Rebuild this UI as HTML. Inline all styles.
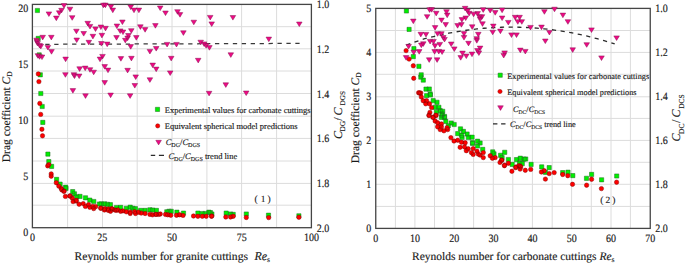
<!DOCTYPE html>
<html><head><meta charset="utf-8"><style>
html,body{margin:0;padding:0;background:#fff;width:685px;height:264px;overflow:hidden;font-family:"Liberation Serif",serif;}
text{stroke:#1a1a1a;stroke-width:0.15px}
svg{display:block}
</style></head><body>
<svg width="685" height="264" viewBox="0 0 685 264" font-family="Liberation Serif" fill="#1a1a1a" text-rendering="geometricPrecision"><rect width="685" height="264" fill="#fff"/><path d="M67.6 4.4V227.7M102.5 4.4V227.7M137.2 4.4V227.7M172.0 4.4V227.7M206.9 4.4V227.7M241.6 4.4V227.7M276.6 4.4V227.7M32.4 26.7H311.4M32.4 48.8H311.4M32.4 71.0H311.4M32.4 93.5H311.4M32.4 116.2H311.4M32.4 138.4H311.4M32.4 161.0H311.4M32.4 183.4H311.4M32.4 205.2H311.4" stroke="#dcdcdc" stroke-width="1" fill="none"/><rect x="32.4" y="4.4" width="279.0" height="223.29999999999998" fill="none" stroke="#454545" stroke-width="1.3"/><path d="M45.3 44.3L299.6 43.4" stroke="#383838" stroke-width="1.25" stroke-dasharray="4.3 4.63" fill="none"/><path d="M35.30 8.40h4.2v4.2h-4.2ZM36.10 36.30h4.2v4.2h-4.2ZM37.10 52.80h4.2v4.2h-4.2ZM38.20 72.70h4.2v4.2h-4.2ZM38.70 91.40h4.2v4.2h-4.2ZM40.10 104.40h4.2v4.2h-4.2ZM40.70 120.30h4.2v4.2h-4.2ZM45.80 152.00h4.2v4.2h-4.2ZM46.70 159.50h4.2v4.2h-4.2ZM49.50 164.30h4.2v4.2h-4.2ZM54.50 177.30h4.2v4.2h-4.2ZM58.00 182.00h4.2v4.2h-4.2ZM63.50 185.10h4.2v4.2h-4.2ZM63.90 186.30h4.2v4.2h-4.2ZM70.60 189.50h4.2v4.2h-4.2ZM72.40 191.70h4.2v4.2h-4.2ZM74.60 194.70h4.2v4.2h-4.2ZM77.90 194.30h4.2v4.2h-4.2ZM83.40 195.70h4.2v4.2h-4.2ZM87.70 198.00h4.2v4.2h-4.2ZM91.70 199.40h4.2v4.2h-4.2ZM97.30 201.90h4.2v4.2h-4.2ZM99.20 201.80h4.2v4.2h-4.2ZM102.40 201.70h4.2v4.2h-4.2ZM105.30 202.20h4.2v4.2h-4.2ZM108.30 202.60h4.2v4.2h-4.2ZM114.40 205.40h4.2v4.2h-4.2ZM118.50 205.30h4.2v4.2h-4.2ZM124.20 206.20h4.2v4.2h-4.2ZM128.10 205.10h4.2v4.2h-4.2ZM130.70 206.20h4.2v4.2h-4.2ZM133.40 206.60h4.2v4.2h-4.2ZM138.60 208.30h4.2v4.2h-4.2ZM143.00 208.30h4.2v4.2h-4.2ZM147.80 207.70h4.2v4.2h-4.2ZM150.40 207.90h4.2v4.2h-4.2ZM154.30 208.30h4.2v4.2h-4.2ZM164.70 209.70h4.2v4.2h-4.2ZM166.90 209.20h4.2v4.2h-4.2ZM169.10 209.20h4.2v4.2h-4.2ZM174.80 210.10h4.2v4.2h-4.2ZM181.40 211.00h4.2v4.2h-4.2ZM195.80 211.00h4.2v4.2h-4.2ZM200.20 211.40h4.2v4.2h-4.2ZM203.20 211.40h4.2v4.2h-4.2ZM206.80 210.10h4.2v4.2h-4.2ZM209.80 211.90h4.2v4.2h-4.2ZM208.30 210.50h4.2v4.2h-4.2ZM224.10 211.00h4.2v4.2h-4.2ZM228.50 211.90h4.2v4.2h-4.2ZM231.10 212.30h4.2v4.2h-4.2ZM244.20 211.90h4.2v4.2h-4.2ZM266.40 213.10h4.2v4.2h-4.2ZM296.80 213.70h4.2v4.2h-4.2Z" fill="#00f000" stroke="#1e6a1e" stroke-width="0.5"/><path d="M36.10 73.90a2.2 2.2 0 1 0 4.4 0a2.2 2.2 0 1 0 -4.4 0ZM36.70 81.60a2.2 2.2 0 1 0 4.4 0a2.2 2.2 0 1 0 -4.4 0ZM37.60 103.40a2.2 2.2 0 1 0 4.4 0a2.2 2.2 0 1 0 -4.4 0ZM38.50 114.40a2.2 2.2 0 1 0 4.4 0a2.2 2.2 0 1 0 -4.4 0ZM39.70 129.30a2.2 2.2 0 1 0 4.4 0a2.2 2.2 0 1 0 -4.4 0ZM40.30 135.80a2.2 2.2 0 1 0 4.4 0a2.2 2.2 0 1 0 -4.4 0ZM45.50 165.90a2.2 2.2 0 1 0 4.4 0a2.2 2.2 0 1 0 -4.4 0ZM46.60 164.60a2.2 2.2 0 1 0 4.4 0a2.2 2.2 0 1 0 -4.4 0ZM49.00 173.90a2.2 2.2 0 1 0 4.4 0a2.2 2.2 0 1 0 -4.4 0ZM49.00 176.20a2.2 2.2 0 1 0 4.4 0a2.2 2.2 0 1 0 -4.4 0ZM54.10 182.70a2.2 2.2 0 1 0 4.4 0a2.2 2.2 0 1 0 -4.4 0ZM56.60 186.10a2.2 2.2 0 1 0 4.4 0a2.2 2.2 0 1 0 -4.4 0ZM59.00 188.50a2.2 2.2 0 1 0 4.4 0a2.2 2.2 0 1 0 -4.4 0ZM59.60 189.90a2.2 2.2 0 1 0 4.4 0a2.2 2.2 0 1 0 -4.4 0ZM61.70 191.30a2.2 2.2 0 1 0 4.4 0a2.2 2.2 0 1 0 -4.4 0ZM61.90 191.10a2.2 2.2 0 1 0 4.4 0a2.2 2.2 0 1 0 -4.4 0ZM63.20 196.40a2.2 2.2 0 1 0 4.4 0a2.2 2.2 0 1 0 -4.4 0ZM67.60 196.00a2.2 2.2 0 1 0 4.4 0a2.2 2.2 0 1 0 -4.4 0ZM67.90 195.90a2.2 2.2 0 1 0 4.4 0a2.2 2.2 0 1 0 -4.4 0ZM70.00 198.00a2.2 2.2 0 1 0 4.4 0a2.2 2.2 0 1 0 -4.4 0ZM70.90 201.60a2.2 2.2 0 1 0 4.4 0a2.2 2.2 0 1 0 -4.4 0ZM74.00 201.10a2.2 2.2 0 1 0 4.4 0a2.2 2.2 0 1 0 -4.4 0ZM74.10 200.30a2.2 2.2 0 1 0 4.4 0a2.2 2.2 0 1 0 -4.4 0ZM76.90 204.20a2.2 2.2 0 1 0 4.4 0a2.2 2.2 0 1 0 -4.4 0ZM81.00 203.60a2.2 2.2 0 1 0 4.4 0a2.2 2.2 0 1 0 -4.4 0ZM83.20 206.40a2.2 2.2 0 1 0 4.4 0a2.2 2.2 0 1 0 -4.4 0ZM86.30 204.60a2.2 2.2 0 1 0 4.4 0a2.2 2.2 0 1 0 -4.4 0ZM87.60 207.30a2.2 2.2 0 1 0 4.4 0a2.2 2.2 0 1 0 -4.4 0ZM90.60 206.40a2.2 2.2 0 1 0 4.4 0a2.2 2.2 0 1 0 -4.4 0ZM93.50 206.60a2.2 2.2 0 1 0 4.4 0a2.2 2.2 0 1 0 -4.4 0ZM91.50 208.60a2.2 2.2 0 1 0 4.4 0a2.2 2.2 0 1 0 -4.4 0ZM98.50 208.10a2.2 2.2 0 1 0 4.4 0a2.2 2.2 0 1 0 -4.4 0ZM98.70 208.30a2.2 2.2 0 1 0 4.4 0a2.2 2.2 0 1 0 -4.4 0ZM102.20 210.00a2.2 2.2 0 1 0 4.4 0a2.2 2.2 0 1 0 -4.4 0ZM102.50 208.60a2.2 2.2 0 1 0 4.4 0a2.2 2.2 0 1 0 -4.4 0ZM106.00 209.00a2.2 2.2 0 1 0 4.4 0a2.2 2.2 0 1 0 -4.4 0ZM106.10 210.40a2.2 2.2 0 1 0 4.4 0a2.2 2.2 0 1 0 -4.4 0ZM108.30 211.30a2.2 2.2 0 1 0 4.4 0a2.2 2.2 0 1 0 -4.4 0ZM109.50 208.60a2.2 2.2 0 1 0 4.4 0a2.2 2.2 0 1 0 -4.4 0ZM110.10 209.10a2.2 2.2 0 1 0 4.4 0a2.2 2.2 0 1 0 -4.4 0ZM112.50 209.90a2.2 2.2 0 1 0 4.4 0a2.2 2.2 0 1 0 -4.4 0ZM114.00 210.40a2.2 2.2 0 1 0 4.4 0a2.2 2.2 0 1 0 -4.4 0ZM115.60 209.90a2.2 2.2 0 1 0 4.4 0a2.2 2.2 0 1 0 -4.4 0ZM118.40 211.30a2.2 2.2 0 1 0 4.4 0a2.2 2.2 0 1 0 -4.4 0ZM120.60 210.90a2.2 2.2 0 1 0 4.4 0a2.2 2.2 0 1 0 -4.4 0ZM124.10 211.80a2.2 2.2 0 1 0 4.4 0a2.2 2.2 0 1 0 -4.4 0ZM128.00 212.20a2.2 2.2 0 1 0 4.4 0a2.2 2.2 0 1 0 -4.4 0ZM128.00 213.50a2.2 2.2 0 1 0 4.4 0a2.2 2.2 0 1 0 -4.4 0ZM132.40 211.80a2.2 2.2 0 1 0 4.4 0a2.2 2.2 0 1 0 -4.4 0ZM133.30 213.50a2.2 2.2 0 1 0 4.4 0a2.2 2.2 0 1 0 -4.4 0ZM136.30 212.20a2.2 2.2 0 1 0 4.4 0a2.2 2.2 0 1 0 -4.4 0ZM139.00 213.10a2.2 2.2 0 1 0 4.4 0a2.2 2.2 0 1 0 -4.4 0ZM142.90 213.50a2.2 2.2 0 1 0 4.4 0a2.2 2.2 0 1 0 -4.4 0ZM147.70 214.40a2.2 2.2 0 1 0 4.4 0a2.2 2.2 0 1 0 -4.4 0ZM150.30 214.80a2.2 2.2 0 1 0 4.4 0a2.2 2.2 0 1 0 -4.4 0ZM153.80 214.40a2.2 2.2 0 1 0 4.4 0a2.2 2.2 0 1 0 -4.4 0ZM156.50 214.40a2.2 2.2 0 1 0 4.4 0a2.2 2.2 0 1 0 -4.4 0ZM153.70 214.40a2.2 2.2 0 1 0 4.4 0a2.2 2.2 0 1 0 -4.4 0ZM158.10 214.00a2.2 2.2 0 1 0 4.4 0a2.2 2.2 0 1 0 -4.4 0ZM163.30 214.40a2.2 2.2 0 1 0 4.4 0a2.2 2.2 0 1 0 -4.4 0ZM165.50 214.80a2.2 2.2 0 1 0 4.4 0a2.2 2.2 0 1 0 -4.4 0ZM168.60 215.30a2.2 2.2 0 1 0 4.4 0a2.2 2.2 0 1 0 -4.4 0ZM174.30 215.30a2.2 2.2 0 1 0 4.4 0a2.2 2.2 0 1 0 -4.4 0ZM177.30 214.80a2.2 2.2 0 1 0 4.4 0a2.2 2.2 0 1 0 -4.4 0ZM180.80 215.40a2.2 2.2 0 1 0 4.4 0a2.2 2.2 0 1 0 -4.4 0ZM191.30 216.00a2.2 2.2 0 1 0 4.4 0a2.2 2.2 0 1 0 -4.4 0ZM195.70 216.30a2.2 2.2 0 1 0 4.4 0a2.2 2.2 0 1 0 -4.4 0ZM200.10 216.30a2.2 2.2 0 1 0 4.4 0a2.2 2.2 0 1 0 -4.4 0ZM204.00 216.30a2.2 2.2 0 1 0 4.4 0a2.2 2.2 0 1 0 -4.4 0ZM209.30 216.30a2.2 2.2 0 1 0 4.4 0a2.2 2.2 0 1 0 -4.4 0ZM209.60 216.00a2.2 2.2 0 1 0 4.4 0a2.2 2.2 0 1 0 -4.4 0ZM223.60 217.00a2.2 2.2 0 1 0 4.4 0a2.2 2.2 0 1 0 -4.4 0ZM228.40 217.00a2.2 2.2 0 1 0 4.4 0a2.2 2.2 0 1 0 -4.4 0ZM231.00 216.30a2.2 2.2 0 1 0 4.4 0a2.2 2.2 0 1 0 -4.4 0ZM244.10 217.50a2.2 2.2 0 1 0 4.4 0a2.2 2.2 0 1 0 -4.4 0ZM266.50 217.60a2.2 2.2 0 1 0 4.4 0a2.2 2.2 0 1 0 -4.4 0ZM296.70 217.30a2.2 2.2 0 1 0 4.4 0a2.2 2.2 0 1 0 -4.4 0Z" fill="#ff0000" stroke="#8a0000" stroke-width="0.5"/><path d="M61.20 3.60H66.80L64.00 8.20ZM58.70 8.30H64.30L61.50 12.90ZM56.40 10.80H62.00L59.20 15.40ZM46.10 11.90H51.70L48.90 16.50ZM53.50 16.10H59.10L56.30 20.70ZM67.20 7.20H72.80L70.00 11.80ZM69.40 15.70H75.00L72.20 20.30ZM100.60 3.20H106.20L103.40 7.80ZM102.60 3.10H108.20L105.40 7.70ZM108.10 4.70H113.70L110.90 9.30ZM110.00 8.10H115.60L112.80 12.70ZM84.90 21.30H90.50L87.70 25.90ZM87.20 24.40H92.80L90.00 29.00ZM92.70 26.90H98.30L95.50 31.50ZM98.10 25.00H103.70L100.90 29.60ZM102.70 26.30H108.30L105.50 30.90ZM73.60 29.20H79.20L76.40 33.80ZM80.90 31.50H86.50L83.70 36.10ZM114.10 24.00H119.70L116.90 28.60ZM127.90 5.00H133.50L130.70 9.60ZM131.20 8.10H136.80L134.00 12.70ZM136.10 8.10H141.70L138.90 12.70ZM157.40 6.00H163.00L160.20 10.60ZM162.70 11.00H168.30L165.50 15.60ZM174.70 9.70H180.30L177.50 14.30ZM177.20 12.60H182.80L180.00 17.20ZM191.00 20.20H196.60L193.80 24.80ZM119.60 20.00H125.20L122.40 24.60ZM117.40 28.90H123.00L120.20 33.50ZM120.20 30.00H125.80L123.00 34.60ZM128.50 28.70H134.10L131.30 33.30ZM137.60 24.80H143.20L140.40 29.40ZM142.30 27.60H147.90L145.10 32.20ZM152.60 23.60H158.20L155.40 28.20ZM180.60 30.80H186.20L183.40 35.40ZM207.40 15.40H213.00L210.20 20.00ZM208.90 21.90H214.50L211.70 26.50ZM230.10 15.50H235.70L232.90 20.10ZM296.50 22.00H302.10L299.30 26.60ZM90.10 34.30H95.70L92.90 38.90ZM99.10 33.30H104.70L101.90 37.90ZM73.90 38.00H79.50L76.70 42.60ZM86.00 40.30H91.60L88.80 44.90ZM98.60 41.50H104.20L101.40 46.10ZM104.40 42.10H110.00L107.20 46.70ZM113.70 35.60H119.30L116.50 40.20ZM39.90 35.30H45.50L42.70 39.90ZM48.50 35.30H54.10L51.30 39.90ZM33.80 38.20H39.40L36.60 42.80ZM34.20 39.80H39.80L37.00 44.40ZM34.80 41.40H40.40L37.60 46.00ZM36.80 43.40H42.40L39.60 48.00ZM38.00 44.30H43.60L40.80 48.90ZM45.10 45.40H50.70L47.90 50.00ZM48.70 49.60H54.30L51.50 54.20ZM62.80 57.10H68.40L65.60 61.70ZM35.10 53.70H40.70L37.90 58.30ZM36.80 54.70H42.40L39.60 59.30ZM39.20 55.00H44.80L42.00 59.60ZM99.70 54.40H105.30L102.50 59.00ZM97.20 57.10H102.80L100.00 61.70ZM125.60 33.50H131.20L128.40 38.10ZM124.80 36.10H130.40L127.60 40.70ZM122.50 38.30H128.10L125.30 42.90ZM133.50 35.60H139.10L136.30 40.20ZM127.90 44.60H133.50L130.70 49.20ZM164.30 42.40H169.90L167.10 47.00ZM173.70 42.40H179.30L176.50 47.00ZM153.40 46.50H159.00L156.20 51.10ZM147.10 49.40H152.70L149.90 54.00ZM118.10 56.60H123.70L120.90 61.20ZM128.60 56.30H134.20L131.40 60.90ZM168.40 56.30H174.00L171.20 60.90ZM197.90 40.20H203.50L200.70 44.80ZM201.30 41.90H206.90L204.10 46.50ZM203.30 43.60H208.90L206.10 48.20ZM206.60 45.60H212.20L209.40 50.20ZM266.00 37.10H271.60L268.80 41.70ZM228.00 52.80H233.60L230.80 57.40ZM195.40 58.30H201.00L198.20 62.90ZM76.80 66.80H82.40L79.60 71.40ZM82.40 66.10H88.00L85.20 70.70ZM87.20 67.70H92.80L90.00 72.30ZM90.90 70.20H96.50L93.70 74.80ZM101.90 64.60H107.50L104.70 69.20ZM105.20 68.10H110.80L108.00 72.70ZM62.60 72.70H68.20L65.40 77.30ZM71.10 72.70H76.70L73.90 77.30ZM71.70 74.00H77.30L74.50 78.60ZM76.40 74.00H82.00L79.20 78.60ZM101.90 80.60H107.50L104.70 85.20ZM70.10 88.60H75.70L72.90 93.20ZM149.90 63.10H155.50L152.70 67.70ZM153.40 67.10H159.00L156.20 71.70ZM124.80 68.30H130.40L127.60 72.90ZM132.90 74.90H138.50L135.70 79.50ZM147.10 77.80H152.70L149.90 82.40ZM167.40 70.90H173.00L170.20 75.50ZM132.00 83.50H137.60L134.80 88.10ZM223.00 82.80H228.60L225.80 87.40ZM82.70 93.80H88.30L85.50 98.40ZM107.80 93.10H113.40L110.60 97.70ZM127.30 93.80H132.90L130.10 98.40ZM206.30 91.30H211.90L209.10 95.90ZM243.40 91.00H249.00L246.20 95.60Z" fill="#ee0a84" stroke="#8a1456" stroke-width="0.5"/><text transform="translate(28.3 235.6) scale(1 1.12)" font-size="10" text-anchor="end" >0</text><text transform="translate(28.3 179.78) scale(1 1.12)" font-size="10" text-anchor="end" >5</text><text transform="translate(28.3 123.95) scale(1 1.12)" font-size="10" text-anchor="end" >10</text><text transform="translate(28.3 68.13) scale(1 1.12)" font-size="10" text-anchor="end" >15</text><text transform="translate(28.3 12.3) scale(1 1.12)" font-size="10" text-anchor="end" >20</text><text transform="translate(316.8 8.3) scale(1 1.12)" font-size="10" text-anchor="start" >1.0</text><text transform="translate(316.8 52.96) scale(1 1.12)" font-size="10" text-anchor="start" >1.2</text><text transform="translate(316.8 97.62) scale(1 1.12)" font-size="10" text-anchor="start" >1.4</text><text transform="translate(316.8 142.28) scale(1 1.12)" font-size="10" text-anchor="start" >1.6</text><text transform="translate(316.8 186.94) scale(1 1.12)" font-size="10" text-anchor="start" >1.8</text><text transform="translate(316.8 231.6) scale(1 1.12)" font-size="10" text-anchor="start" >2.0</text><text transform="translate(32.4 241.4) scale(1 1.12)" font-size="10" text-anchor="middle" >0</text><text transform="translate(102.15 241.4) scale(1 1.12)" font-size="10" text-anchor="middle" >25</text><text transform="translate(171.9 241.4) scale(1 1.12)" font-size="10" text-anchor="middle" >50</text><text transform="translate(241.65 241.4) scale(1 1.12)" font-size="10" text-anchor="middle" >75</text><text transform="translate(311.4 241.4) scale(1 1.12)" font-size="10" text-anchor="middle" >100</text><text x="74.5" y="259.6" font-size="11.62">Reynolds number for granite cuttings<tspan x="254.4" font-style="italic" font-size="12">Re</tspan><tspan font-size="7.6" dy="2.8">s</tspan></text><text transform="translate(9.7 162.2) rotate(-90)" font-size="11.5">Drag coefficient <tspan font-style="italic">C</tspan><tspan font-size="7.5" dy="2">D</tspan></text><text transform="translate(341.6 138.9) rotate(-90)" font-size="12"><tspan x="0" font-style="italic">C</tspan><tspan x="7.3" font-size="7.4" dy="3.1">DG</tspan><tspan x="18.2" dy="-3.1">/</tspan><tspan x="23.3" font-style="italic">C</tspan><tspan x="33.5" font-size="7.2" dy="3.1">DGS</tspan></text><path d="M155.40 107.30h4.2v4.2h-4.2Z" fill="#00f000" stroke="#1e6a1e" stroke-width="0.5"/><text x="164.7" y="112.9" font-size="8.5" text-anchor="start" >Experimental values for carbonate cuttings</text><circle cx="157.7" cy="125.9" r="2.1" fill="#ff0000" stroke="#8a0000" stroke-width="0.5"/><text x="164.7" y="128.6" font-size="8.5" text-anchor="start" >Equivalent spherical model predictions</text><path d="M155.80 140.30H161.40L158.60 144.90Z" fill="#ee0a84" stroke="#8a1456" stroke-width="0.5"/><text x="165.7" y="145.1" font-size="8.5"><tspan font-style="italic">C</tspan><tspan font-size="6" dy="2">DG</tspan><tspan dy="-2">/</tspan><tspan font-style="italic">C</tspan><tspan font-size="6" dy="2">DGS</tspan></text><path d="M150.8 155.4H155.2M158.9 155.4H164" stroke="#2b2b2b" stroke-width="1.2"/><text x="168.4" y="159" font-size="8.5"><tspan font-style="italic">C</tspan><tspan font-size="6" dy="2">DG</tspan><tspan dy="-2">/</tspan><tspan font-style="italic">C</tspan><tspan font-size="6" dy="2">DGS</tspan><tspan dy="-2"> trend line</tspan></text><text x="254.6" y="201.6" font-size="9.5">(<tspan dx="3.1">1</tspan><tspan dx="2.0">)</tspan></text><path d="M395.4 8.4V228.4M414.9 8.4V228.4M434.5 8.4V228.4M454.0 8.4V228.4M473.6 8.4V228.4M493.3 8.4V228.4M512.8 8.4V228.4M532.4 8.4V228.4M552.2 8.4V228.4M571.6 8.4V228.4M591.3 8.4V228.4M611.0 8.4V228.4M630.4 8.4V228.4M375.75 30.5H650.25M375.75 52.4H650.25M375.75 74.3H650.25M375.75 96.8H650.25M375.75 118.4H650.25M375.75 140.4H650.25M375.75 162.3H650.25M375.75 184.3H650.25M375.75 206.4H650.25" stroke="#dcdcdc" stroke-width="1" fill="none"/><rect x="375.75" y="8.4" width="274.5" height="220.0" fill="none" stroke="#454545" stroke-width="1.3"/><path d="M406.30 45.18 L409.83 43.87 L413.36 42.59 L416.90 41.35 L420.43 40.15 L423.96 38.99 L427.49 38.04 L431.03 37.14 L434.56 36.28 L438.09 35.45 L441.62 34.66 L445.15 33.92 L448.69 33.21 L452.22 32.54 L455.75 31.91 L459.28 31.32 L462.82 30.77 L466.35 30.25 L469.88 29.78 L473.41 29.34 L476.94 28.95 L480.48 28.59 L484.01 28.27 L487.54 27.99 L491.07 27.75 L494.61 27.55 L498.14 27.38 L501.67 27.26 L505.20 27.18 L508.73 27.13 L512.27 27.12 L515.80 27.16 L519.33 27.23 L522.86 27.34 L526.39 27.49 L529.93 27.68 L533.46 27.90 L536.99 28.17 L540.52 28.48 L544.06 28.82 L547.59 29.20 L551.12 29.63 L554.65 30.09 L558.18 30.59 L561.72 31.13 L565.25 31.70 L568.78 32.32 L572.31 32.98 L575.85 33.67 L579.38 34.41 L582.91 35.18 L586.44 35.99 L589.97 36.84 L593.51 37.73 L597.04 38.66 L600.57 39.63 L604.10 40.64 L607.64 41.69 L611.17 42.77 L614.70 43.89" stroke="#2b2b2b" stroke-width="1.3" stroke-dasharray="4.2 4.5" fill="none"/><path d="M404.30 8.90h4.2v4.2h-4.2ZM407.00 27.30h4.2v4.2h-4.2ZM411.80 46.60h4.2v4.2h-4.2ZM411.20 54.50h4.2v4.2h-4.2ZM416.80 64.20h4.2v4.2h-4.2ZM419.10 72.70h4.2v4.2h-4.2ZM418.70 75.00h4.2v4.2h-4.2ZM421.20 78.00h4.2v4.2h-4.2ZM423.90 87.00h4.2v4.2h-4.2ZM427.20 86.90h4.2v4.2h-4.2ZM428.10 91.80h4.2v4.2h-4.2ZM424.50 93.60h4.2v4.2h-4.2ZM428.30 92.90h4.2v4.2h-4.2ZM431.10 98.60h4.2v4.2h-4.2ZM434.90 100.20h4.2v4.2h-4.2ZM433.00 105.20h4.2v4.2h-4.2ZM436.80 105.20h4.2v4.2h-4.2ZM438.10 108.60h4.2v4.2h-4.2ZM440.60 109.20h4.2v4.2h-4.2ZM434.30 110.20h4.2v4.2h-4.2ZM439.90 113.00h4.2v4.2h-4.2ZM442.40 114.30h4.2v4.2h-4.2ZM439.90 111.80h4.2v4.2h-4.2ZM439.30 115.20h4.2v4.2h-4.2ZM442.40 115.50h4.2v4.2h-4.2ZM443.70 119.30h4.2v4.2h-4.2ZM449.10 120.90h4.2v4.2h-4.2ZM452.10 122.40h4.2v4.2h-4.2ZM446.20 123.70h4.2v4.2h-4.2ZM458.40 126.80h4.2v4.2h-4.2ZM461.30 129.30h4.2v4.2h-4.2ZM455.60 131.50h4.2v4.2h-4.2ZM459.40 133.10h4.2v4.2h-4.2ZM465.00 131.90h4.2v4.2h-4.2ZM460.00 135.40h4.2v4.2h-4.2ZM466.20 135.40h4.2v4.2h-4.2ZM470.00 135.10h4.2v4.2h-4.2ZM470.40 140.60h4.2v4.2h-4.2ZM475.50 139.10h4.2v4.2h-4.2ZM478.00 140.90h4.2v4.2h-4.2ZM470.50 141.40h4.2v4.2h-4.2ZM475.50 143.90h4.2v4.2h-4.2ZM480.60 147.30h4.2v4.2h-4.2ZM490.60 149.80h4.2v4.2h-4.2ZM491.90 151.70h4.2v4.2h-4.2ZM502.60 150.20h4.2v4.2h-4.2ZM498.50 153.20h4.2v4.2h-4.2ZM506.30 157.40h4.2v4.2h-4.2ZM500.00 155.50h4.2v4.2h-4.2ZM514.40 157.50h4.2v4.2h-4.2ZM518.20 156.10h4.2v4.2h-4.2ZM522.00 157.00h4.2v4.2h-4.2ZM510.10 162.30h4.2v4.2h-4.2ZM517.50 160.70h4.2v4.2h-4.2ZM520.20 161.50h4.2v4.2h-4.2ZM523.60 156.90h4.2v4.2h-4.2ZM529.00 162.30h4.2v4.2h-4.2ZM539.60 164.80h4.2v4.2h-4.2ZM547.10 165.50h4.2v4.2h-4.2ZM543.30 170.20h4.2v4.2h-4.2ZM560.60 170.50h4.2v4.2h-4.2ZM565.90 170.10h4.2v4.2h-4.2ZM570.70 173.50h4.2v4.2h-4.2ZM584.40 176.20h4.2v4.2h-4.2ZM589.50 172.30h4.2v4.2h-4.2ZM599.50 177.70h4.2v4.2h-4.2ZM614.60 173.90h4.2v4.2h-4.2Z" fill="#00f000" stroke="#1e6a1e" stroke-width="0.5"/><path d="M403.90 50.60a2.2 2.2 0 1 0 4.4 0a2.2 2.2 0 1 0 -4.4 0ZM406.90 59.10a2.2 2.2 0 1 0 4.4 0a2.2 2.2 0 1 0 -4.4 0ZM411.10 65.80a2.2 2.2 0 1 0 4.4 0a2.2 2.2 0 1 0 -4.4 0ZM411.50 78.30a2.2 2.2 0 1 0 4.4 0a2.2 2.2 0 1 0 -4.4 0ZM417.40 93.00a2.2 2.2 0 1 0 4.4 0a2.2 2.2 0 1 0 -4.4 0ZM418.60 93.00a2.2 2.2 0 1 0 4.4 0a2.2 2.2 0 1 0 -4.4 0ZM416.40 92.80a2.2 2.2 0 1 0 4.4 0a2.2 2.2 0 1 0 -4.4 0ZM419.10 96.90a2.2 2.2 0 1 0 4.4 0a2.2 2.2 0 1 0 -4.4 0ZM421.00 100.70a2.2 2.2 0 1 0 4.4 0a2.2 2.2 0 1 0 -4.4 0ZM424.40 100.70a2.2 2.2 0 1 0 4.4 0a2.2 2.2 0 1 0 -4.4 0ZM423.50 103.80a2.2 2.2 0 1 0 4.4 0a2.2 2.2 0 1 0 -4.4 0ZM427.30 103.80a2.2 2.2 0 1 0 4.4 0a2.2 2.2 0 1 0 -4.4 0ZM429.40 107.60a2.2 2.2 0 1 0 4.4 0a2.2 2.2 0 1 0 -4.4 0ZM427.70 112.40a2.2 2.2 0 1 0 4.4 0a2.2 2.2 0 1 0 -4.4 0ZM426.90 115.10a2.2 2.2 0 1 0 4.4 0a2.2 2.2 0 1 0 -4.4 0ZM433.60 115.10a2.2 2.2 0 1 0 4.4 0a2.2 2.2 0 1 0 -4.4 0ZM431.00 117.40a2.2 2.2 0 1 0 4.4 0a2.2 2.2 0 1 0 -4.4 0ZM426.70 115.50a2.2 2.2 0 1 0 4.4 0a2.2 2.2 0 1 0 -4.4 0ZM430.70 117.30a2.2 2.2 0 1 0 4.4 0a2.2 2.2 0 1 0 -4.4 0ZM433.90 115.50a2.2 2.2 0 1 0 4.4 0a2.2 2.2 0 1 0 -4.4 0ZM432.90 121.00a2.2 2.2 0 1 0 4.4 0a2.2 2.2 0 1 0 -4.4 0ZM435.40 122.70a2.2 2.2 0 1 0 4.4 0a2.2 2.2 0 1 0 -4.4 0ZM439.20 123.90a2.2 2.2 0 1 0 4.4 0a2.2 2.2 0 1 0 -4.4 0ZM435.40 126.80a2.2 2.2 0 1 0 4.4 0a2.2 2.2 0 1 0 -4.4 0ZM439.20 126.80a2.2 2.2 0 1 0 4.4 0a2.2 2.2 0 1 0 -4.4 0ZM438.00 129.60a2.2 2.2 0 1 0 4.4 0a2.2 2.2 0 1 0 -4.4 0ZM441.70 130.80a2.2 2.2 0 1 0 4.4 0a2.2 2.2 0 1 0 -4.4 0ZM444.90 127.70a2.2 2.2 0 1 0 4.4 0a2.2 2.2 0 1 0 -4.4 0ZM445.50 129.60a2.2 2.2 0 1 0 4.4 0a2.2 2.2 0 1 0 -4.4 0ZM448.70 137.60a2.2 2.2 0 1 0 4.4 0a2.2 2.2 0 1 0 -4.4 0ZM451.80 141.00a2.2 2.2 0 1 0 4.4 0a2.2 2.2 0 1 0 -4.4 0ZM455.50 140.20a2.2 2.2 0 1 0 4.4 0a2.2 2.2 0 1 0 -4.4 0ZM459.30 142.20a2.2 2.2 0 1 0 4.4 0a2.2 2.2 0 1 0 -4.4 0ZM463.00 142.80a2.2 2.2 0 1 0 4.4 0a2.2 2.2 0 1 0 -4.4 0ZM457.90 147.30a2.2 2.2 0 1 0 4.4 0a2.2 2.2 0 1 0 -4.4 0ZM462.30 146.90a2.2 2.2 0 1 0 4.4 0a2.2 2.2 0 1 0 -4.4 0ZM466.00 148.80a2.2 2.2 0 1 0 4.4 0a2.2 2.2 0 1 0 -4.4 0ZM464.10 150.70a2.2 2.2 0 1 0 4.4 0a2.2 2.2 0 1 0 -4.4 0ZM471.00 148.60a2.2 2.2 0 1 0 4.4 0a2.2 2.2 0 1 0 -4.4 0ZM469.20 152.60a2.2 2.2 0 1 0 4.4 0a2.2 2.2 0 1 0 -4.4 0ZM471.00 154.40a2.2 2.2 0 1 0 4.4 0a2.2 2.2 0 1 0 -4.4 0ZM474.80 151.30a2.2 2.2 0 1 0 4.4 0a2.2 2.2 0 1 0 -4.4 0ZM476.10 154.10a2.2 2.2 0 1 0 4.4 0a2.2 2.2 0 1 0 -4.4 0ZM477.90 155.10a2.2 2.2 0 1 0 4.4 0a2.2 2.2 0 1 0 -4.4 0ZM481.10 152.60a2.2 2.2 0 1 0 4.4 0a2.2 2.2 0 1 0 -4.4 0ZM481.10 157.60a2.2 2.2 0 1 0 4.4 0a2.2 2.2 0 1 0 -4.4 0ZM488.00 155.70a2.2 2.2 0 1 0 4.4 0a2.2 2.2 0 1 0 -4.4 0ZM490.20 158.20a2.2 2.2 0 1 0 4.4 0a2.2 2.2 0 1 0 -4.4 0ZM493.00 157.60a2.2 2.2 0 1 0 4.4 0a2.2 2.2 0 1 0 -4.4 0ZM499.30 160.10a2.2 2.2 0 1 0 4.4 0a2.2 2.2 0 1 0 -4.4 0ZM497.80 162.40a2.2 2.2 0 1 0 4.4 0a2.2 2.2 0 1 0 -4.4 0ZM502.40 165.10a2.2 2.2 0 1 0 4.4 0a2.2 2.2 0 1 0 -4.4 0ZM506.20 163.20a2.2 2.2 0 1 0 4.4 0a2.2 2.2 0 1 0 -4.4 0ZM513.70 167.00a2.2 2.2 0 1 0 4.4 0a2.2 2.2 0 1 0 -4.4 0ZM518.10 166.10a2.2 2.2 0 1 0 4.4 0a2.2 2.2 0 1 0 -4.4 0ZM499.70 160.30a2.2 2.2 0 1 0 4.4 0a2.2 2.2 0 1 0 -4.4 0ZM502.20 165.70a2.2 2.2 0 1 0 4.4 0a2.2 2.2 0 1 0 -4.4 0ZM509.70 171.30a2.2 2.2 0 1 0 4.4 0a2.2 2.2 0 1 0 -4.4 0ZM513.50 167.60a2.2 2.2 0 1 0 4.4 0a2.2 2.2 0 1 0 -4.4 0ZM516.60 165.70a2.2 2.2 0 1 0 4.4 0a2.2 2.2 0 1 0 -4.4 0ZM518.50 166.90a2.2 2.2 0 1 0 4.4 0a2.2 2.2 0 1 0 -4.4 0ZM517.90 169.10a2.2 2.2 0 1 0 4.4 0a2.2 2.2 0 1 0 -4.4 0ZM523.10 170.30a2.2 2.2 0 1 0 4.4 0a2.2 2.2 0 1 0 -4.4 0ZM528.50 169.40a2.2 2.2 0 1 0 4.4 0a2.2 2.2 0 1 0 -4.4 0ZM539.20 172.00a2.2 2.2 0 1 0 4.4 0a2.2 2.2 0 1 0 -4.4 0ZM542.00 170.70a2.2 2.2 0 1 0 4.4 0a2.2 2.2 0 1 0 -4.4 0ZM547.00 173.60a2.2 2.2 0 1 0 4.4 0a2.2 2.2 0 1 0 -4.4 0ZM552.00 172.60a2.2 2.2 0 1 0 4.4 0a2.2 2.2 0 1 0 -4.4 0ZM543.20 179.10a2.2 2.2 0 1 0 4.4 0a2.2 2.2 0 1 0 -4.4 0ZM560.50 174.50a2.2 2.2 0 1 0 4.4 0a2.2 2.2 0 1 0 -4.4 0ZM565.60 175.70a2.2 2.2 0 1 0 4.4 0a2.2 2.2 0 1 0 -4.4 0ZM570.30 184.30a2.2 2.2 0 1 0 4.4 0a2.2 2.2 0 1 0 -4.4 0ZM584.40 185.20a2.2 2.2 0 1 0 4.4 0a2.2 2.2 0 1 0 -4.4 0ZM589.40 179.30a2.2 2.2 0 1 0 4.4 0a2.2 2.2 0 1 0 -4.4 0ZM599.20 188.60a2.2 2.2 0 1 0 4.4 0a2.2 2.2 0 1 0 -4.4 0ZM614.40 182.20a2.2 2.2 0 1 0 4.4 0a2.2 2.2 0 1 0 -4.4 0Z" fill="#ff0000" stroke="#8a0000" stroke-width="0.5"/><path d="M410.50 19.10H416.10L413.30 23.70ZM424.30 14.70H429.90L427.10 19.30ZM426.80 7.80H432.40L429.60 12.40ZM428.90 7.60H434.50L431.70 12.20ZM433.40 11.30H439.00L436.20 15.90ZM443.70 9.70H449.30L446.50 14.30ZM444.40 13.10H450.00L447.20 17.70ZM438.70 18.10H444.30L441.50 22.70ZM442.90 22.60H448.50L445.70 27.20ZM432.30 25.60H437.90L435.10 30.20ZM418.00 32.30H423.60L420.80 36.90ZM423.20 32.40H428.80L426.00 37.00ZM434.80 31.70H440.40L437.60 36.30ZM438.60 31.70H444.20L441.40 36.30ZM440.50 35.50H446.10L443.30 40.10ZM441.70 37.40H447.30L444.50 42.00ZM462.30 6.30H467.90L465.10 10.90ZM464.80 8.80H470.40L467.60 13.40ZM466.30 11.30H471.90L469.10 15.90ZM470.80 12.20H476.40L473.60 16.80ZM474.80 11.60H480.40L477.60 16.20ZM476.70 14.70H482.30L479.50 19.30ZM479.20 14.70H484.80L482.00 19.30ZM477.30 17.20H482.90L480.10 21.80ZM480.40 7.80H486.00L483.20 12.40ZM487.40 8.40H493.00L490.20 13.00ZM492.40 10.60H498.00L495.20 15.20ZM499.30 8.10H504.90L502.10 12.70ZM499.30 16.00H504.90L502.10 20.60ZM512.40 15.30H518.00L515.20 19.90ZM516.80 15.30H522.40L519.60 19.90ZM515.00 19.70H520.60L517.80 24.30ZM519.00 19.70H524.60L521.80 24.30ZM505.50 20.40H511.10L508.30 25.00ZM459.10 17.60H464.70L461.90 22.20ZM462.90 16.00H468.50L465.70 20.60ZM454.80 23.60H460.40L457.60 28.20ZM458.60 22.60H464.20L461.40 27.20ZM479.70 21.80H485.30L482.50 26.40ZM469.40 24.80H475.00L472.20 29.40ZM490.50 24.10H496.10L493.30 28.70ZM489.90 30.20H495.50L492.70 34.80ZM497.60 29.10H503.20L500.40 33.70ZM461.20 31.60H466.80L464.00 36.20ZM461.20 35.50H466.80L464.00 40.10ZM475.50 32.30H481.10L478.30 36.90ZM508.70 32.90H514.30L511.50 37.50ZM513.70 32.90H519.30L516.50 37.50ZM527.70 25.40H533.30L530.50 30.00ZM541.60 9.70H547.20L544.40 14.30ZM551.70 7.20H557.30L554.50 11.80ZM560.10 13.10H565.70L562.90 17.70ZM565.10 19.70H570.70L567.90 24.30ZM538.70 25.10H544.30L541.50 29.70ZM546.60 30.40H552.20L549.40 35.00ZM588.70 27.90H594.30L591.50 32.50ZM613.80 35.90H619.40L616.60 40.50ZM405.80 44.40H411.40L408.60 49.00ZM410.90 50.20H416.50L413.70 54.80ZM416.40 49.60H422.00L419.20 54.20ZM418.50 43.10H424.10L421.30 47.70ZM420.50 41.80H426.10L423.30 46.40ZM427.30 39.40H432.90L430.10 44.00ZM430.70 39.40H436.30L433.50 44.00ZM432.20 43.80H437.80L435.00 48.40ZM437.00 42.40H442.60L439.80 47.00ZM431.80 49.60H437.40L434.60 54.20ZM436.00 49.40H441.60L438.80 54.00ZM439.30 49.90H444.90L442.10 54.50ZM448.40 42.00H454.00L451.20 46.60ZM451.50 46.90H457.10L454.30 51.50ZM403.30 55.60H408.90L406.10 60.20ZM426.40 57.80H432.00L429.20 62.40ZM434.30 57.80H439.90L437.10 62.40ZM474.00 36.70H479.60L476.80 41.30ZM474.00 38.60H479.60L476.80 43.20ZM465.70 41.30H471.30L468.50 45.90ZM459.70 51.10H465.30L462.50 55.70ZM457.90 55.60H463.50L460.70 60.20ZM463.50 54.00H469.10L466.30 58.60ZM469.20 52.10H474.80L472.00 56.70ZM477.30 46.10H482.90L480.10 50.70ZM474.60 48.60H480.20L477.40 53.20ZM476.10 50.90H481.70L478.90 55.50ZM501.80 50.90H507.40L504.60 55.50ZM500.90 53.40H506.50L503.70 58.00ZM517.50 48.10H523.10L520.30 52.70ZM522.50 49.40H528.10L525.30 54.00ZM542.50 39.00H548.10L545.30 43.60ZM569.90 47.80H575.50L572.70 52.40ZM583.90 42.70H589.50L586.70 47.30ZM598.70 55.90H604.30L601.50 60.50Z" fill="#ee0a84" stroke="#8a1456" stroke-width="0.5"/><text transform="translate(371.2 232.3) scale(1 1.12)" font-size="10" text-anchor="end" >0</text><text transform="translate(371.2 188.3) scale(1 1.12)" font-size="10" text-anchor="end" >1</text><text transform="translate(371.2 144.3) scale(1 1.12)" font-size="10" text-anchor="end" >2</text><text transform="translate(371.2 100.3) scale(1 1.12)" font-size="10" text-anchor="end" >3</text><text transform="translate(371.2 56.3) scale(1 1.12)" font-size="10" text-anchor="end" >4</text><text transform="translate(371.2 12.3) scale(1 1.12)" font-size="10" text-anchor="end" >5</text><text transform="translate(655.3 12.3) scale(1 1.12)" font-size="10" text-anchor="start" >1.0</text><text transform="translate(655.3 56.3) scale(1 1.12)" font-size="10" text-anchor="start" >1.2</text><text transform="translate(655.3 100.3) scale(1 1.12)" font-size="10" text-anchor="start" >1.4</text><text transform="translate(655.3 144.3) scale(1 1.12)" font-size="10" text-anchor="start" >1.6</text><text transform="translate(655.3 188.3) scale(1 1.12)" font-size="10" text-anchor="start" >1.8</text><text transform="translate(655.3 232.3) scale(1 1.12)" font-size="10" text-anchor="start" >2.0</text><text transform="translate(375.75 241.8) scale(1 1.12)" font-size="10" text-anchor="middle" >0</text><text transform="translate(414.96 241.8) scale(1 1.12)" font-size="10" text-anchor="middle" >10</text><text transform="translate(454.18 241.8) scale(1 1.12)" font-size="10" text-anchor="middle" >20</text><text transform="translate(493.39 241.8) scale(1 1.12)" font-size="10" text-anchor="middle" >30</text><text transform="translate(532.61 241.8) scale(1 1.12)" font-size="10" text-anchor="middle" >40</text><text transform="translate(571.82 241.8) scale(1 1.12)" font-size="10" text-anchor="middle" >50</text><text transform="translate(611.04 241.8) scale(1 1.12)" font-size="10" text-anchor="middle" >60</text><text transform="translate(650.25 241.8) scale(1 1.12)" font-size="10" text-anchor="middle" >70</text><text x="412" y="259.6" font-size="11.5">Reynolds number for carbonate cuttings <tspan font-style="italic">Re</tspan><tspan font-size="7.6" dy="2.8">s</tspan></text><text transform="translate(359.3 163.2) rotate(-90)" font-size="11.5">Drag coefficient <tspan font-style="italic">C</tspan><tspan font-size="7.5" dy="2">D</tspan></text><text transform="translate(680.4 141.4) rotate(-90)" font-size="12"><tspan x="0" font-style="italic">C</tspan><tspan x="7.5" font-size="7.5" dy="3.1">DC</tspan><tspan x="18.3" dy="-3.1">/</tspan><tspan x="23.8" font-style="italic">C</tspan><tspan x="32.6" font-size="7.5" dy="3.1">DCS</tspan></text><path d="M498.10 73.10h4.2v4.2h-4.2Z" fill="#00f000" stroke="#1e6a1e" stroke-width="0.5"/><text x="507.3" y="78.7" font-size="8.28" text-anchor="start" >Experimental values for carbonate cuttings</text><circle cx="500" cy="91.5" r="2.1" fill="#ff0000" stroke="#8a0000" stroke-width="0.5"/><text x="507.3" y="94.7" font-size="8.28" text-anchor="start" >Equivalent spherical model predictions</text><path d="M497.70 105.80H503.30L500.50 110.40Z" fill="#ee0a84" stroke="#8a1456" stroke-width="0.5"/><text x="513" y="111.5" font-size="8.3"><tspan font-style="italic">C</tspan><tspan font-size="5.6" dy="2">DC</tspan><tspan dy="-2">/</tspan><tspan font-style="italic">C</tspan><tspan font-size="5.6" dy="2">DCS</tspan></text><path d="M493 123.8H497.4M501.1 123.8H505.5" stroke="#2b2b2b" stroke-width="1.2"/><text x="510" y="127.3" font-size="8.3"><tspan font-style="italic">C</tspan><tspan font-size="5.6" dy="2">DC</tspan><tspan dy="-2">/</tspan><tspan font-style="italic">C</tspan><tspan font-size="5.6" dy="2">DCS</tspan><tspan dy="-2"> trend line</tspan></text><text x="600.2" y="202.5" font-size="9.5">(<tspan dx="2.2">2</tspan><tspan dx="2.0">)</tspan></text></svg>
</body></html>
